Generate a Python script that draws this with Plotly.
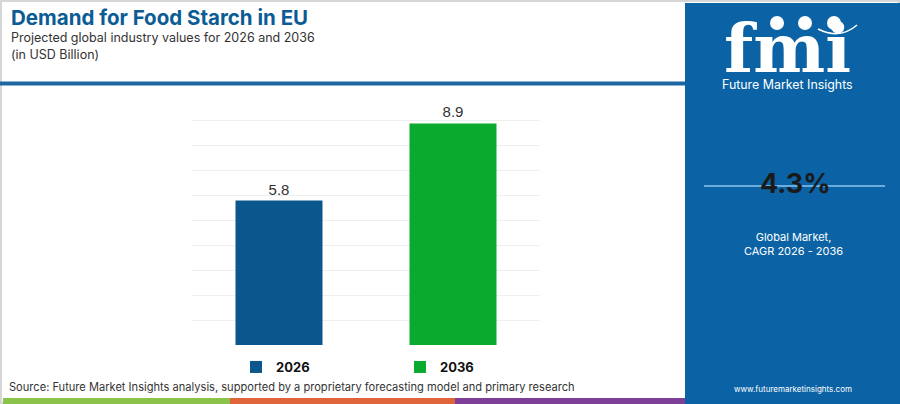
"""Demand for Food Starch in EU: 2026 vs 2036 bar chart."""

import plotly.graph_objects as go

years = ["2026", "2036"]
values = [5.8, 8.9]
bar_colors = ["#0b568c", "#0aaa2e"]
y_ticks = list(range(0, 11))

cagr_text = "4.3%"
title = "Demand for Food Starch in EU"
subtitle = "Projected global industry values for 2026 and 2036"
units = "(in USD Billion)"
source = ("Source: Future Market Insights analysis, supported by a proprietary "
          "forecasting model and primary research")

W, H = 900, 404
L, R, T, B = 192, 540, 95, 345  # plot area in pixels


def px(x):
    return (x - L) / (R - L)


def py(y):
    return (B - y) / (B - T)


fig = go.Figure()
for year, val, col in zip(years, values, bar_colors):
    fig.add_trace(go.Bar(
        x=[year], y=[val], name=year,
        marker=dict(color=col, line=dict(width=0)),
        width=0.5,
        text=[f"{val:.1f}"], textposition="outside",
        textfont=dict(family="Liberation Sans", size=15, color="#333333"),
        cliponaxis=False,
    ))

shapes = [
    # outer border
    dict(type="rect", xref="paper", yref="paper", x0=px(1), x1=px(899), y0=py(403), y1=py(1),
         line=dict(color="#d6d6d6", width=2), layer="below"),
    # header rule
    dict(type="rect", xref="paper", yref="paper", x0=px(0), x1=px(686), y0=py(85.5), y1=py(81.5),
         fillcolor="#1d67a2", line=dict(width=0)),
    # right panel
    dict(type="rect", xref="paper", yref="paper", x0=px(685), x1=px(900), y0=py(404), y1=py(3),
         fillcolor="#0b63a5", line=dict(width=0)),
    dict(type="line", xref="paper", yref="paper", x0=px(704), x1=px(885), y0=py(186), y1=py(186),
         line=dict(color="#8cc4ec", width=1.5)),
    # bottom colour strip
    dict(type="rect", xref="paper", yref="paper", x0=px(3), x1=px(230), y0=py(404), y1=py(398),
         fillcolor="#8bc34a", line=dict(width=0)),
    dict(type="rect", xref="paper", yref="paper", x0=px(230), x1=px(455), y0=py(404), y1=py(398),
         fillcolor="#e0643a", line=dict(width=0)),
    dict(type="rect", xref="paper", yref="paper", x0=px(455), x1=px(685), y0=py(404), y1=py(398),
         fillcolor="#7d3f98", line=dict(width=0)),
]

# logo globes above "fmi" and the smile arc
for cx in (777, 805, 834):
    shapes.append(dict(type="circle", xref="paper", yref="paper",
                       x0=px(cx - 7), x1=px(cx + 7), y0=py(30), y1=py(16),
                       fillcolor="white", line=dict(width=0)))
shapes.append(dict(type="path", xref="paper", yref="paper",
                   path=f"M {px(818)} {py(29)} Q {px(840)} {py(40)} {px(857)} {py(25)}",
                   line=dict(color="white", width=1.5)))

annotations = [
    dict(text=f"<b>{title}</b>", x=px(9), y=py(17.5), xanchor="left", yanchor="middle",
         font=dict(family="Inter", size=20.5, color="#0b5c94")),
    dict(text=subtitle, x=px(9), y=py(37), xanchor="left", yanchor="middle",
         font=dict(family="Inter", size=12.5, color="#333333")),
    dict(text=units, x=px(9), y=py(54.5), xanchor="left", yanchor="middle",
         font=dict(family="Inter", size=12.5, color="#333333")),
    dict(text=source, x=px(7), y=py(387), xanchor="left", yanchor="middle",
         font=dict(family="Inter", size=11.1, color="#333333")),
    dict(text="<b>fmi</b>", x=px(787), y=py(48), xanchor="center", yanchor="middle",
         font=dict(family="DejaVu Serif", size=68, color="white")),
    dict(text="Future Market Insights", x=px(787), y=py(85), xanchor="center", yanchor="middle",
         font=dict(family="Inter", size=12.4, color="white")),
    dict(text=f"<b>{cagr_text}</b>", x=px(795), y=py(183), xanchor="center", yanchor="middle",
         font=dict(family="Inter", size=27, color="#1a1a1a")),
    dict(text="Global Market,<br>CAGR 2026 - 2036", x=px(793), y=py(244), xanchor="center",
         yanchor="middle", font=dict(family="Inter", size=11, color="white")),
    dict(text="www.futuremarketinsights.com", x=px(793), y=py(389), xanchor="center",
         yanchor="middle", font=dict(family="Inter", size=8, color="white")),
]
for a in annotations:
    a.update(xref="paper", yref="paper", showarrow=False)

fig.update_layout(
    width=W, height=H,
    margin=dict(l=L, r=W - R, t=T, b=H - B),
    paper_bgcolor="white", plot_bgcolor="white",
    barmode="overlay",
    showlegend=True,
    legend=dict(orientation="h", x=px(236), y=py(367), xanchor="left", yanchor="middle",
                entrywidth=119, font=dict(family="Inter", size=13, color="#111111", weight="bold"),
                itemclick=False),
    xaxis=dict(showticklabels=False, showgrid=False, zeroline=False, showline=False,
               fixedrange=True),
    # range runs a hair past 10 so the top gridline is still drawn
    yaxis=dict(range=[0, 10.04], tickvals=y_ticks, showticklabels=False, gridcolor="#efefef",
               gridwidth=1, zeroline=False, showline=False, fixedrange=True),
    shapes=shapes,
    annotations=annotations,
)

# drop the browser's default 8px body margin so the figure sits at the page corner
fig.write_html("out.html", config={"displayModeBar": False},
               post_script="document.body.style.margin = '0';")
